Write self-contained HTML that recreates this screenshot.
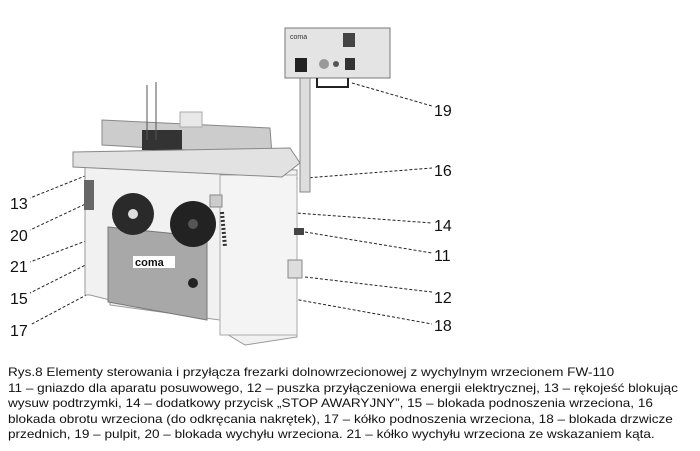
<!DOCTYPE html><html><head><style>body{margin:0;background:#fff;width:700px;height:451px;overflow:hidden;font-family:"Liberation Sans",sans-serif}
.c{position:absolute;left:8px;top:365px;font-size:12px;line-height:15.6px;color:#111;white-space:nowrap;transform:scaleX(1.13);transform-origin:0 0}
</style></head><body>
<svg width="700" height="451" style="position:absolute;left:0;top:0">
<g fill="none" stroke="#222" stroke-dasharray="3,2" stroke-width="1">
<line x1="352" y1="83" x2="432" y2="106"/>
<line x1="205" y1="186" x2="432" y2="168"/>
<line x1="228" y1="208" x2="432" y2="223"/>
<line x1="305" y1="232" x2="432" y2="253"/>
<line x1="305" y1="277" x2="432" y2="292"/>
<line x1="205" y1="283" x2="432" y2="324"/>
<line x1="100" y1="170" x2="30" y2="198"/>
<line x1="130" y1="183" x2="30" y2="230"/>
<line x1="115" y1="230" x2="30" y2="262"/>
<line x1="165" y1="225" x2="30" y2="293"/>
<line x1="180" y1="245" x2="30" y2="325"/>
</g>
<rect x="300" y="77" width="10" height="115" fill="#ddd" stroke="#888"/>
<rect x="285" y="28" width="105" height="50" fill="#e4e4e4" stroke="#777"/>
<rect x="295" y="58" width="12" height="14" fill="#222"/>
<circle cx="324" cy="64" r="5" fill="#999"/><circle cx="336" cy="64" r="3" fill="#555"/>
<rect x="345" y="58" width="10" height="12" fill="#333"/><rect x="343" y="33" width="12" height="14" fill="#444"/>
<text x="290" y="39" font-size="7" font-family="Liberation Sans" fill="#333">coma</text>
<path d="M317 78v9h31v-9" fill="none" stroke="#222" stroke-width="2"/>
<polygon points="102,120 270,128 272,155 102,145" fill="#ccc" stroke="#888"/>
<rect x="142" y="130" width="40" height="20" fill="#333"/>
<rect x="180" y="112" width="22" height="15" fill="#e8e8e8" stroke="#aaa"/>
<line x1="147" y1="85" x2="147" y2="140" stroke="#555"/><line x1="156" y1="82" x2="156" y2="140" stroke="#555"/>
<polygon points="85,165 297,170 297,337 245,345 220,330 220,320 110,305 110,300 90,295 85,295" fill="#f1f1f1" stroke="#999"/>
<rect x="220" y="175" width="77" height="160" fill="#f4f4f4" stroke="#aaa"/>
<polygon points="73,152 290,148 300,163 282,177 73,167" fill="#e2e2e2" stroke="#888"/>
<polygon points="108,227 207,237 207,320 108,302" fill="#a8a8a8" stroke="#777"/>
<rect x="133" y="256" width="42" height="12" fill="#fff"/>
<text x="135" y="266" font-size="11" font-weight="bold" font-family="Liberation Sans" fill="#111">coma</text>
<circle cx="133" cy="214" r="21" fill="#2a2a2a"/><circle cx="133" cy="214" r="5" fill="#ddd"/>
<circle cx="193" cy="224" r="23" fill="#222"/><circle cx="193" cy="224" r="5" fill="#555"/>
<circle cx="193" cy="283" r="5" fill="#222"/>
<rect x="210" y="195" width="12" height="12" fill="#ccc" stroke="#888"/>
<path d="M222 212 l3 35" stroke="#333" stroke-width="4" stroke-dasharray="2,2"/>
<rect x="288" y="260" width="14" height="18" fill="#ddd" stroke="#888"/>
<rect x="294" y="228" width="10" height="7" fill="#444"/>
<rect x="84" y="180" width="10" height="30" fill="#666"/>
<g font-family="Liberation Sans" font-size="16" fill="#111">
<text x="434" y="116">19</text><text x="434" y="176">16</text><text x="434" y="231">14</text>
<text x="434" y="261">11</text><text x="434" y="303">12</text><text x="434" y="331">18</text>
<text x="10" y="209">13</text><text x="10" y="241">20</text><text x="10" y="272">21</text>
<text x="10" y="304">15</text><text x="10" y="336">17</text>
</g>
</svg>
<div class="c">Rys.8 Elementy sterowania i przyłącza frezarki dolnowrzecionowej z wychylnym wrzecionem FW-110<br>11 – gniazdo dla aparatu posuwowego, 12 – puszka przyłączeniowa energii elektrycznej, 13 – rękojeść blokując<br>wysuw podtrzymki, 14 – dodatkowy przycisk „STOP AWARYJNY”, 15 – blokada podnoszenia wrzeciona, 16<br>blokada obrotu wrzeciona (do odkręcania nakrętek), 17 – kółko podnoszenia wrzeciona, 18 – blokada drzwicze<br>przednich, 19 – pulpit, 20 – blokada wychyłu wrzeciona. 21 –  kółko wychyłu wrzeciona ze wskazaniem kąta.</div>
</body></html>
